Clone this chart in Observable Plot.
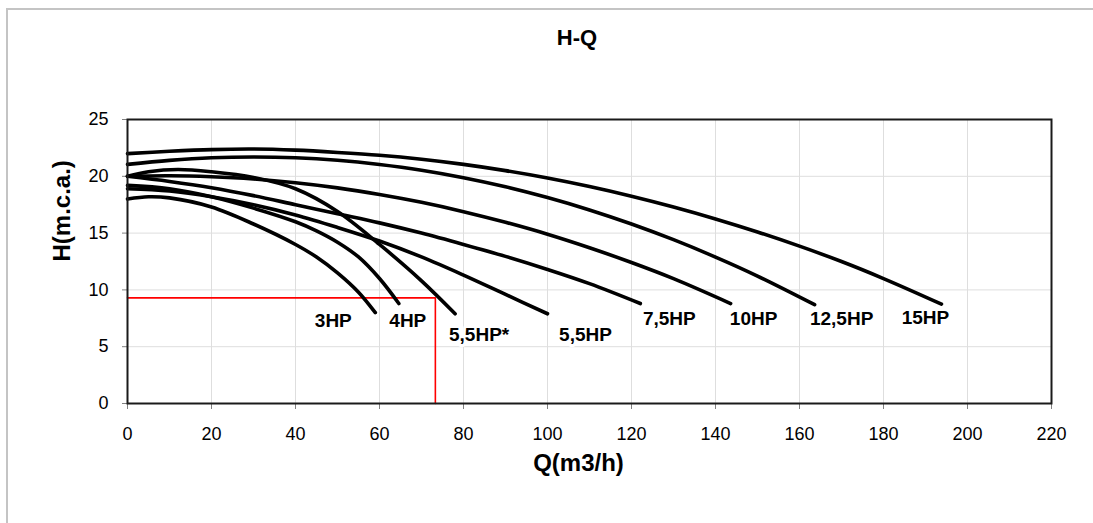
<!DOCTYPE html>
<html>
<head>
<meta charset="utf-8">
<script src="https://cdn.jsdelivr.net/npm/d3@7"></script>
<script src="https://cdn.jsdelivr.net/npm/@observablehq/plot@0.6"></script>
<style>
  html, body { margin: 0; padding: 0; background: #fff; overflow: hidden; width: 1093px; height: 523px; }
  #wrap { position: relative; width: 1093px; height: 523px; overflow: hidden; font-family: "Liberation Sans", Arial, sans-serif; }
  #border { position: absolute; left: 6px; top: 8px; width: 1400px; height: 800px; border-left: 2px solid #c4c4c4; border-top: 2px solid #c4c4c4; }
  #chart { position: absolute; left: 0; top: 0; }
  #title { position: absolute; left: 577px; top: 27px; transform: translateX(-50%); font-size: 22px; font-weight: bold; line-height: 22px; color: #000; }
</style>
</head>
<body>
<div id="wrap">
  <div id="border"></div>
  <div id="chart"></div>
  <div id="title">H-Q</div>
</div>
<script>
// Pump performance curves: head H (m.c.a.) against flow Q (m3/h)
const qTicks = [0, 20, 40, 60, 80, 100, 120, 140, 160, 180, 200, 220];
const hTicks = [0, 5, 10, 15, 20, 25];

const q3HP = [0, 5, 10, 20, 30, 40, 45, 50, 55, 59];
const h3HP = [18.0, 18.2, 18.1, 17.3, 15.8, 14.0, 12.9, 11.5, 9.8, 8.0];

const q4HP = [0, 10, 20, 30, 40, 45, 50, 55, 60, 64.6];
const h4HP = [19.2, 18.9, 18.2, 17.2, 16.0, 15.2, 14.2, 12.9, 11.0, 8.8];

const q55HPstar = [0, 5, 12, 20, 30, 40, 50, 60, 70, 78];
const h55HPstar = [20.0, 20.4, 20.6, 20.4, 19.9, 18.9, 16.9, 14.0, 10.8, 7.9];

const q55HP = [0, 10, 20, 30, 40, 50, 60, 70, 80, 90, 100];
const h55HP = [18.9, 18.7, 18.2, 17.5, 16.6, 15.5, 14.3, 12.9, 11.3, 9.6, 7.9];

const q75HP = [0, 10, 20, 30, 40, 50, 60, 70, 80, 90, 100, 110, 122.1];
const h75HP = [20.0, 19.55, 19.0, 18.3, 17.5, 16.7, 15.9, 15.0, 14.0, 12.95, 11.8, 10.55, 8.8];

const q10HP = [0, 10, 20, 30, 40, 50, 60, 70, 80, 90, 100, 110, 120, 130, 143.6];
const h10HP = [20.0, 20.05, 19.96, 19.76, 19.43, 18.98, 18.4, 17.71, 16.89, 15.95, 14.9, 13.71, 12.41, 10.99, 8.8];

const q125HP = [0, 10, 20, 30, 40, 50, 60, 70, 80, 90, 100, 110, 120, 130, 140, 150, 163.6];
const h125HP = [21.05, 21.4, 21.63, 21.7, 21.63, 21.41, 21.04, 20.54, 19.88, 19.08, 18.13, 17.04, 15.8, 14.42, 12.89, 11.22, 8.7];

const q15HP = [0, 10, 20, 30, 40, 50, 60, 70, 80, 90, 100, 110, 120, 130, 140, 150, 160, 170, 180, 193.8];
const h15HP = [22.0, 22.2, 22.35, 22.4, 22.3, 22.1, 21.85, 21.5, 21.05, 20.5, 19.85, 19.1, 18.25, 17.3, 16.25, 15.1, 13.85, 12.5, 11.0, 8.75];

const seriesNames = ["3HP", "4HP", "5,5HP*", "5,5HP", "7,5HP", "10HP", "12,5HP", "15HP"];
const seriesQ = [q3HP, q4HP, q55HPstar, q55HP, q75HP, q10HP, q125HP, q15HP];
const seriesH = [h3HP, h4HP, h55HPstar, h55HP, h75HP, h10HP, h125HP, h15HP];

// Operating point marked with the red guide lines
const dutyQ = 73.3;
const dutyH = 9.3;

// Pixel nudges of each end-of-curve label
const labelNudge = {
  "3HP": [-42, 8], "4HP": [9, 17], "5,5HP*": [24, 21], "5,5HP": [38, 21],
  "7,5HP": [29, 15], "10HP": [23, 15], "12,5HP": [27, 14], "15HP": [-16, 14]
};

const rows = seriesNames.flatMap((name, i) => seriesQ[i].map((q, j) => ({name, q, h: seriesH[i][j]})));
const ends = seriesNames.map((name, i) => ({name, q: seriesQ[i].at(-1), h: seriesH[i].at(-1)}));
const duty = [{q: 0, h: dutyH}, {q: dutyQ, h: dutyH}, {q: dutyQ, h: 0}];

const font = "'Liberation Sans', Arial, sans-serif";

const chart = Plot.plot({
  width: 1093,
  height: 523,
  marginLeft: 127,
  marginRight: 42,
  marginTop: 119,
  marginBottom: 120,
  style: {fontFamily: font, fontSize: "18px", color: "#000", background: "transparent", overflow: "visible"},
  x: {domain: [0, 220], ticks: qTicks, label: null},
  y: {domain: [0, 25], ticks: hTicks, label: null},
  marks: [
    Plot.gridX(qTicks, {stroke: "#dedede", strokeOpacity: 1}),
    Plot.gridY(hTicks, {stroke: "#dedede", strokeOpacity: 1}),
    Plot.axisX(qTicks, {tickSize: 6, tickPadding: 18, stroke: "#808080", fill: "#000", fontSize: 18, label: null}),
    Plot.axisY(hTicks, {tickSize: 5, tickPadding: 14, stroke: "#808080", fill: "#000", fontSize: 18, label: null}),
    Plot.line(duty, {x: "q", y: "h", stroke: "#ff0000", strokeWidth: 1.6}),
    Plot.line(rows, {x: "q", y: "h", z: "name", stroke: "#000", strokeWidth: 3.6, curve: "catmull-rom"}),
    ...ends.map(d => Plot.text([d], {
      x: "q", y: "h", text: "name",
      dx: labelNudge[d.name][0], dy: labelNudge[d.name][1],
      fontSize: 19, fontWeight: "bold", fill: "#000",
      stroke: "#fff", strokeWidth: 6,
      style: "letter-spacing:1px"
    })),
    Plot.frame({stroke: "#1a1a1a", strokeWidth: 2}),
    Plot.text(["H(m.c.a.)"], {frameAnchor: "left", dx: -65, rotate: -90, fontSize: 24, fontWeight: "bold", fill: "#000"}),
    Plot.text(["Q(m3/h)"], {frameAnchor: "bottom", dx: -11, dy: 67, fontSize: 24, fontWeight: "bold", fill: "#000"})
  ]
});

document.getElementById("chart").append(chart);
</script>
</body>
</html>
